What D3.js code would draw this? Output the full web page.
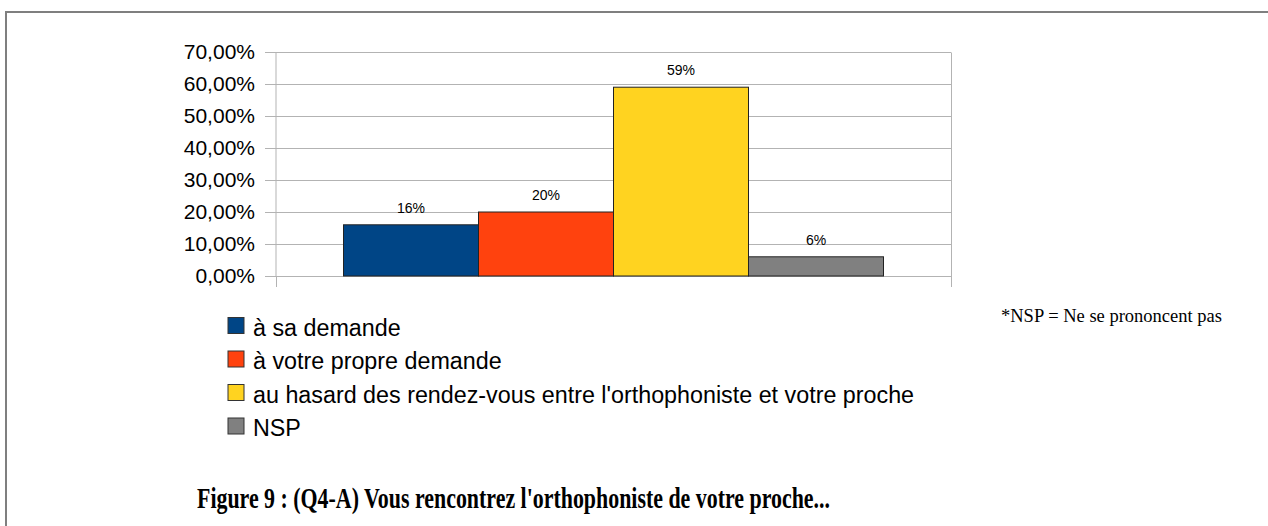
<!DOCTYPE html>
<html>
<head>
<meta charset="utf-8">
<script src="https://d3js.org/d3.v7.min.js"></script>
<style>
  body { margin: 0; background: #fff; overflow: hidden; }
</style>
</head>
<body>
<div id="chart"></div>
<script>
// data
const series = ['à sa demande', 'à votre propre demande',
    "au hasard des rendez-vous entre l'orthophoniste et votre proche", 'NSP'];
const values = [0.16, 0.20, 0.59, 0.06];
const colors = ['#004586', '#ff420e', '#ffd320', '#808080'];
const yTicks = [0, 0.1, 0.2, 0.3, 0.4, 0.5, 0.6, 0.7];
const title = "Figure 9 : (Q4-A) Vous rencontrez l'orthophoniste de votre proche...";
const footnote = '*NSP = Ne se prononcent pas';

const width = 1268, height = 526;
const plot = { left: 276, right: 951, top: 52, bottom: 276 };

const fr = d3.formatLocale({ decimal: ',', thousands: ' ', grouping: [3], currency: ['', ' €'] });
const fmtTick = fr.format('.2%');
const fmtLabel = fr.format('.0%');

const svg = d3.select('#chart')
    .append('svg')
    .attr('width', width)
    .attr('height', height)
    .attr('xmlns', 'http://www.w3.org/2000/svg');

// outer frame (only top and left edges are inside the picture)
svg.append('rect')
    .attr('x', 6).attr('y', 12)
    .attr('width', 1400).attr('height', 600)
    .attr('fill', 'none')
    .attr('stroke', '#7f7f7f')
    .attr('stroke-width', 2);

const x = d3.scaleBand()
    .domain(series)
    .range([plot.left, plot.right])
    .paddingInner(0)
    .paddingOuter(0.5);

const y = d3.scaleLinear()
    .domain([0, 0.7])
    .range([plot.bottom, plot.top]);

// gridlines + tick labels, axis placed on the right edge so the ticks run across
const gy = svg.append('g')
    .attr('transform', `translate(${plot.right},0)`)
    .call(d3.axisLeft(y)
        .tickValues(yTicks)
        .tickSizeInner(plot.right - plot.left + 11)
        .tickSizeOuter(0)
        .tickPadding(10)
        .tickFormat(fmtTick));
gy.selectAll('line').attr('stroke', '#b3b3b3');
gy.select('.domain').attr('stroke', '#b3b3b3');
gy.selectAll('text')
    .attr('font-family', '"Liberation Sans", Arial, sans-serif')
    .attr('font-size', '21px')
    .attr('fill', '#000');

// left axis line
svg.append('line')
    .attr('x1', plot.left).attr('x2', plot.left)
    .attr('y1', plot.top).attr('y2', plot.bottom)
    .attr('stroke', '#b3b3b3');

// category axis ticks at both ends
const xEnds = d3.scaleLinear().domain([0, 1]).range([plot.left, plot.right]);
const gx = svg.append('g')
    .attr('transform', `translate(0,${plot.bottom})`)
    .call(d3.axisBottom(xEnds).tickValues([0, 1]).tickSize(11).tickFormat(''));
gx.select('.domain').remove();
gx.selectAll('line').attr('stroke', '#b3b3b3');

// bars
svg.selectAll('rect.bar')
    .data(values)
    .join('rect')
    .attr('class', 'bar')
    .attr('x', (d, i) => x(series[i]))
    .attr('y', d => y(d))
    .attr('width', x.bandwidth())
    .attr('height', d => y(0) - y(d))
    .attr('fill', (d, i) => colors[i])
    .attr('stroke', '#222')
    .attr('stroke-width', 1);

// value labels
svg.selectAll('text.val')
    .data(values)
    .join('text')
    .attr('class', 'val')
    .attr('x', (d, i) => x(series[i]) + x.bandwidth() / 2)
    .attr('y', d => y(d) - 12)
    .attr('text-anchor', 'middle')
    .attr('font-family', '"Liberation Sans", Arial, sans-serif')
    .attr('font-size', '14px')
    .text(d => fmtLabel(d));

// legend
const legend = svg.append('g')
    .attr('transform', 'translate(228,335.5)');
const rows = legend.selectAll('g')
    .data(series)
    .join('g')
    .attr('transform', (d, i) => `translate(0,${i * 33.5})`);
rows.append('rect')
    .attr('x', 0).attr('y', -18)
    .attr('width', 16).attr('height', 16)
    .attr('fill', (d, i) => colors[i])
    .attr('stroke', '#333');
rows.append('text')
    .attr('x', 25).attr('y', 0)
    .attr('font-family', '"Liberation Sans", Arial, sans-serif')
    .attr('font-size', '23.3px')
    .text(d => d);

// footnote
svg.append('text')
    .attr('x', 1001).attr('y', 322)
    .attr('font-family', '"Liberation Serif", "Times New Roman", serif')
    .attr('font-size', '18.5px')
    .text(footnote);

// figure caption (condensed bold serif)
svg.append('text')
    .attr('x', 197).attr('y', 508)
    .attr('font-family', '"Liberation Serif", "Times New Roman", serif')
    .attr('font-weight', 'bold')
    .attr('font-size', '30px')
    .attr('textLength', 633)
    .attr('lengthAdjust', 'spacingAndGlyphs')
    .text(title);
</script>
</body>
</html>
